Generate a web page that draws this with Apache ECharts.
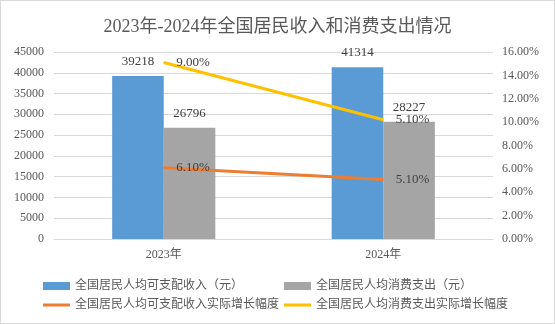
<!DOCTYPE html>
<html>
<head>
<meta charset="utf-8">
<script src="https://cdn.jsdelivr.net/npm/echarts@6/dist/echarts.min.js"></script>
<style>
html,body{margin:0;padding:0;background:#fff;}
#c{width:555px;height:324px;box-sizing:border-box;border:1px solid #d9d9d9;}
</style>
</head>
<body>
<div id="c"></div>
<script>
const categories = ['2023年', '2024年'];
const incomeValues = [39218, 41314];
const spendValues = [26796, 28227];
const incomeGrowth = [0.061, 0.051];
const spendGrowth = [0.09, 0.051];
const leftTicks = [0, 45000, 5000];
const rightTicks = [0, 0.16, 0.02];
const names = ['全国居民人均可支配收入（元）', '全国居民人均消费支出（元）', '全国居民人均可支配收入实际增长幅度', '全国居民人均消费支出实际增长幅度'];

const FONT = '"Liberation Serif", "Times New Roman", "Noto Sans CJK SC", serif';
const chart = echarts.init(document.getElementById('c'));
const pct = v => (v * 100).toFixed(2) + '%';
function lg(name, left, top, isLine) {
  return {
    data: [name], left: left, top: top,
    icon: 'rect', itemWidth: 27, itemHeight: isLine ? 3 : 8,
    textStyle: {fontFamily: FONT, fontSize: 12, color: '#595959'},
    padding: 0
  };
}
chart.setOption({
  animation: false,
  title: {text: '2023年-2024年全国居民收入和消费支出情况', left: 'center', top: 12,
    textStyle: {fontFamily: FONT, fontSize: 18, fontWeight: 'normal', color: '#595959'}},
  legend: [lg(names[0], 42, 279, false), lg(names[1], 283, 279, false),
           lg(names[2], 42, 298, true), lg(names[3], 283, 298, true)],
  grid: {left: 53, right: 61, top: 51, bottom: 84},
  xAxis: {type: 'category', data: categories,
    axisLine: {lineStyle: {color: '#d9d9d9'}}, axisTick: {show: false},
    axisLabel: {fontFamily: FONT, fontSize: 12, color: '#595959', margin: 10}},
  yAxis: [
    {type: 'value', min: leftTicks[0], max: leftTicks[1], interval: leftTicks[2],
      axisLine: {show: false}, axisTick: {show: false},
      splitLine: {lineStyle: {color: '#d9d9d9'}},
      axisLabel: {fontFamily: FONT, fontSize: 12, color: '#595959', margin: 10, formatter: v => String(v)}},
    {type: 'value', min: rightTicks[0], max: rightTicks[1], interval: rightTicks[2],
      axisLine: {show: false}, axisTick: {show: false}, splitLine: {show: false},
      axisLabel: {fontFamily: FONT, fontSize: 12, color: '#595959', margin: 9, formatter: pct}}
  ],
  series: [
    {name: names[0], type: 'bar', data: incomeValues, barGap: '0%', barCategoryGap: '53%',
      itemStyle: {color: '#5B9BD5'},
      label: {show: true, position: 'top', distance: 8, fontFamily: FONT, fontSize: 13, color: '#404040'}},
    {name: names[1], type: 'bar', data: spendValues,
      itemStyle: {color: '#A5A5A5'},
      label: {show: true, position: 'top', distance: 8, fontFamily: FONT, fontSize: 13, color: '#404040'}},
    {name: names[2], type: 'line', yAxisIndex: 1, stack: 'g', data: incomeGrowth,
      symbol: 'circle', symbolSize: 1, itemStyle: {color: '#ED7D31'},
      lineStyle: {color: '#ED7D31', width: 3},
      label: {show: true, position: 'right', distance: 12, fontFamily: FONT, fontSize: 13, color: '#404040',
        formatter: p => pct(p.value)}},
    {name: names[3], type: 'line', yAxisIndex: 1, stack: 'g', data: spendGrowth,
      symbol: 'circle', symbolSize: 1, itemStyle: {color: '#FFC000'},
      lineStyle: {color: '#FFC000', width: 3},
      label: {show: true, position: 'right', distance: 12, fontFamily: FONT, fontSize: 13, color: '#404040',
        formatter: p => pct(p.value)}}
  ]
});
</script>
</body>
</html>
